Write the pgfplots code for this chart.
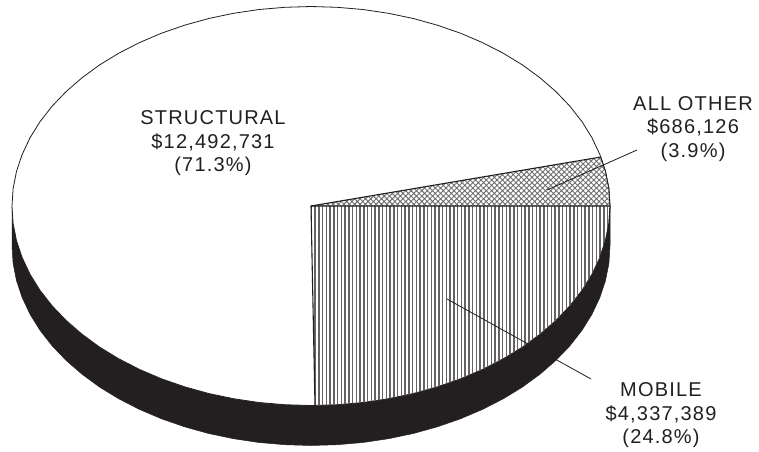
\documentclass[border=0pt]{standalone}
\usepackage{fontspec}
\setmainfont[LetterSpace=6]{Liberation Sans}
\usepackage{pgfplots}
\pgfplotsset{compat=1.18}
\usetikzlibrary{patterns.meta}
\definecolor{ink}{HTML}{231F20}
\begin{document}
\begin{tikzpicture}
\begin{axis}[
  scale only axis, width=759pt, height=450pt,
  xmin=0, xmax=759, ymin=0, ymax=450, y dir=reverse,
  axis lines=none, clip=false, ticks=none,
  every axis plot/.append style={no markers, line join=round}
]
\path (axis cs:0,0) rectangle (axis cs:759,450);
% black side wall
\addplot[fill=ink, draw=ink, line width=0.5pt] coordinates {
(12,206)(12,246)(13.1,263.4)(16.5,280.6)(22.2,297.6)(30,314.2)(40,330.3)(52.1,345.8)(66.1,360.4)(82,374.2)(99.6,387.1)(118.8,398.8)(139.5,409.4)(161.5,418.8)(184.6,426.8)(208.7,433.5)(233.6,438.7)(259.1,442.5)(284.9,444.7)(311,445.5)(337.1,444.7)(362.9,442.5)(388.4,438.7)(413.3,433.5)(437.4,426.8)(460.5,418.8)(482.5,409.4)(503.2,398.8)(522.4,387.1)(540,374.2)(555.9,360.4)(569.9,345.8)(582,330.3)(592,314.2)(599.8,297.6)(605.5,280.6)(608.9,263.4)(610,246)(610,206)(12,206)};
% top face
\addplot[fill=white, draw=ink, line width=0.8pt] coordinates {
(610,206)(608.9,188.6)(605.5,171.4)(599.8,154.4)(592,137.8)(582,121.7)(569.9,106.2)(555.9,91.6)(540,77.8)(522.4,64.9)(503.2,53.2)(482.5,42.6)(460.5,33.2)(437.4,25.2)(413.3,18.5)(388.4,13.3)(362.9,9.5)(337.1,7.3)(311,6.5)(284.9,7.3)(259.1,9.5)(233.6,13.3)(208.7,18.5)(184.6,25.2)(161.5,33.2)(139.5,42.6)(118.8,53.2)(99.6,64.9)(82,77.8)(66.1,91.6)(52.1,106.2)(40,121.7)(30,137.8)(22.2,154.4)(16.5,171.4)(13.1,188.6)(12,206)(13.1,223.4)(16.5,240.6)(22.2,257.6)(30,274.2)(40,290.3)(52.1,305.8)(66.1,320.4)(82,334.2)(99.6,347.1)(118.8,358.8)(139.5,369.4)(161.5,378.8)(184.6,386.8)(208.7,393.5)(233.6,398.7)(259.1,402.5)(284.9,404.7)(311,405.5)(337.1,404.7)(362.9,402.5)(388.4,398.7)(413.3,393.5)(437.4,386.8)(460.5,378.8)(482.5,369.4)(503.2,358.8)(522.4,347.1)(540,334.2)(555.9,320.4)(569.9,305.8)(582,290.3)(592,274.2)(599.8,257.6)(605.5,240.6)(608.9,223.4)(610,206)};
% MOBILE slice
\addplot[pattern={Lines[angle=90,distance=3.75pt,line width=1.5pt]}, pattern color=ink!70, draw=none] coordinates {
(311,206)(610,206)(608.9,223.4)(605.5,240.6)(599.8,257.6)(592,274.2)(582,290.3)(569.9,305.8)(555.9,320.4)(540,334.2)(522.4,347.1)(503.2,358.8)(482.5,369.4)(460.5,378.8)(437.4,386.8)(413.3,393.5)(388.4,398.7)(362.9,402.5)(337.1,404.7)(315,405.4)(311,206)};
% ALL OTHER slice
\addplot[pattern={Hatch[angle=45,distance=3.8pt,line width=0.9pt]}, pattern color=ink!65, draw=none] coordinates {
(311,206)(600.8,157)(605.5,171.4)(608.9,188.6)(610,206)(311,206)};
% slice edges
\addplot[draw=ink, line width=1.1pt] coordinates {(315,405.4)(311,206)(610,206)};
\addplot[draw=ink, line width=1.1pt] coordinates {(311,206)(600.8,157)};
\addplot[draw=ink, line width=0.8pt] coordinates {(600.8,157)(605.5,171.4)(608.9,188.6)(610,206)(608.9,223.4)(605.5,240.6)(599.8,257.6)};
% leaders
\addplot[draw=ink, line width=0.8pt] coordinates {(547,190)(637,150)};
\addplot[draw=ink, line width=0.8pt] coordinates {(447,299)(591,379)};
\node[align=center, text=ink, font=\fontsize{20}{23.5}\selectfont] at (axis cs:213,143.5) {STRUCTURAL\\\$12,492,731\\(71.3\%)};
\node[align=center, text=ink, font=\fontsize{20}{23.5}\selectfont] at (axis cs:693,129) {ALL OTHER\\\$686,126\\(3.9\%)};
\node[align=center, text=ink, font=\fontsize{20}{23.5}\selectfont] at (axis cs:661,415.5) {MOBILE\\\$4,337,389\\(24.8\%)};
\end{axis}
\end{tikzpicture}
\end{document}
